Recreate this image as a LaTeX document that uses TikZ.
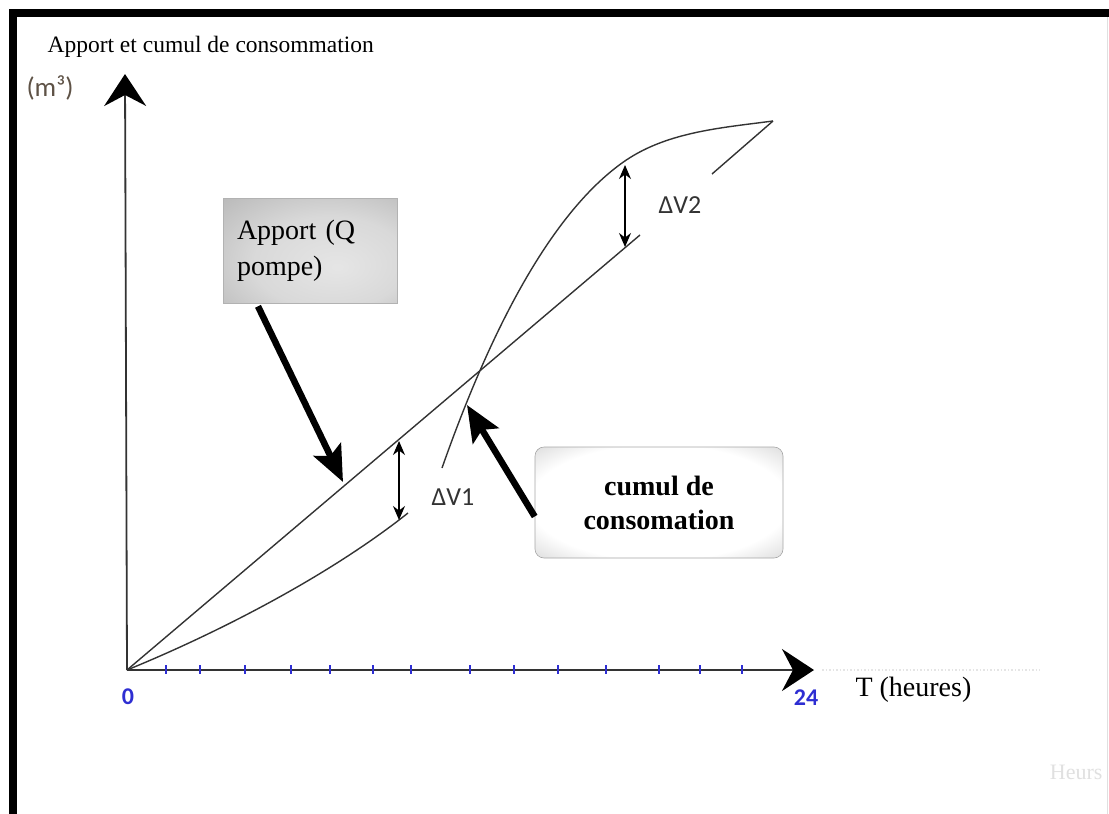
\documentclass[tikz,border=0pt]{standalone}
\usepackage{fontspec}
\setmainfont{Liberation Serif}
\newfontfamily\calibri{Carlito}
\usetikzlibrary{arrows.meta, positioning, calc}
\definecolor{CGrayDark}{HTML}{333333}
\definecolor{TickBlue}{HTML}{2E2ED2}
\definecolor{UnitBrown}{HTML}{5E5246}
\pgfdeclareradialshading{boxglow}{\pgfpoint{0bp}{0bp}}{color(0bp)=(white); color(26bp)=(white); color(48bp)=(gray!60); color(72bp)=(gray!85)}
\pgfdeclareradialshading{boxmetal}{\pgfpoint{8bp}{-8bp}}{color(0bp)=(gray!20); color(22bp)=(gray!30); color(55bp)=(gray!72); color(80bp)=(gray!92)}

\begin{document}
\begin{tikzpicture}[x=1pt, y=-1pt,
  curve/.style={CGrayDark, line width=1.4pt},
  pointer/.style={black, line width=6.5pt, -{Stealth[length=36pt, width=30pt, inset=7pt]}},
  gap/.style={black, line width=1.3pt, {Stealth[length=14pt, width=12pt]}-{Stealth[length=14pt, width=12pt]}},
  axis/.style={black!80, line width=2.5pt, -{Stealth[black, length=32pt, width=42pt, inset=11pt]}}]

  % --- GEOMETRIC VARIABLES ---
  \def\Big{\fontsize{28}{36}\selectfont}
  \def\Small{\calibri\fontsize{26}{30}\selectfont}

  \useasboundingbox (0,0) rectangle (1109,814);

  % =====================================================================
  % 1. FRAME
  % =====================================================================
  \fill[black] (9,9) rectangle (1109,17);
  \fill[black] (9,9) rectangle (17,814);
  \draw[black!12, line width=1pt] (1107,17) -- (1107,814);

  % =====================================================================
  % 2. AXES
  % =====================================================================
  \coordinate (O) at (127,670);
  \coordinate (Ytip) at (125,74);
  \coordinate (Xtip) at (814,670);
  \draw[axis, line width=1.8pt] (O) -- (Ytip);
  \draw[axis] (O) -- (Xtip);
  % faint ghost of the old axis
  \draw[black!10, line width=1.5pt, dotted] (822,670) -- (1040,670);
  % Ticks
  \foreach \tx in {166,200,245,291,330,373,411,470,514,558,606,659,700,742}
    \draw[TickBlue, line width=1.6pt] (\tx,665) -- (\tx,674);

  \node[TickBlue, font=\calibri\bfseries\fontsize{24}{28}\selectfont] (zero) at (128,697) {0};
  \node[TickBlue, font=\calibri\bfseries\fontsize{24}{28}\selectfont] (last) at (806,698) {24};
  \node[anchor=west, font=\fontsize{28}{32}\selectfont] (tlabel) at (852,690) {T (heures)};
  \node[black!12, anchor=east, font=\fontsize{22}{26}\selectfont] (ghost) at (1106,772) {Heurs};

  \node[anchor=west, font=\fontsize{23.5}{28}\selectfont] (title) at (44,47) {Apport et cumul de consommation};
  \node[UnitBrown, font=\calibri\fontsize{27}{30}\selectfont] (unit) at (50,88) {(m³)};

  % =====================================================================
  % 3. CURVES
  % =====================================================================
  % Apport (straight line, cut round the label)
  \coordinate (L1) at (640,235);
  \coordinate (L2) at (712,174);
  \coordinate (Top) at (773,121);
  \draw[curve] (O) -- (L1);
  \draw[curve] (L2) -- (Top);
  % Cumul de consommation
  \coordinate (C1) at (408,513);
  \coordinate (C2) at (442,468);
  \draw[curve] (O) .. controls (220,632) and (330,575) .. (C1);
  \draw[curve] (C2) .. controls (480,360) and (540,222) .. (622,163)
                    .. controls (665,132) and (720,128) .. (Top);

  % =====================================================================
  % 4. DELTA V
  % =====================================================================
  \coordinate (d1top) at (399,441);
  \coordinate (d1bot) at (399,520);
  \draw[gap] (d1top) -- (d1bot);
  \node[CGrayDark, font=\Small] (dv1) at (453,497) {ΔV1};

  \coordinate (d2top) at (625,165);
  \coordinate (d2bot) at (625,247);
  \draw[gap] (d2top) -- (d2bot);
  \node[CGrayDark, font=\Small] (dv2) at (680,205) {ΔV2};

  % =====================================================================
  % 5. LABEL BOXES
  % =====================================================================
  \node[draw=gray!60, line width=0.6pt, shading=boxmetal, minimum width=174pt,
        minimum height=105pt, text width=146pt, inner xsep=14pt, align=left,
        font=\Big] (apport) at (310,250.5) {Apport (Q\\pompe)};
  \coordinate (apportTip) at (343,482);
  \draw[pointer] ($(apport.south)+(-52,3)$) -- (apportTip);

  \node[draw=gray!70, line width=0.6pt, rounded corners=9pt, shading=boxglow,
        minimum width=248pt, minimum height=111pt, align=center,
        font=\bfseries\fontsize{28}{34}\selectfont] (cumul) at (659,502.5) {cumul de\\consomation};
  \coordinate (cumulTip) at (467,405);
  \draw[pointer] ($(cumul.west)+(0,14)$) -- (cumulTip);

\end{tikzpicture}
\end{document}
